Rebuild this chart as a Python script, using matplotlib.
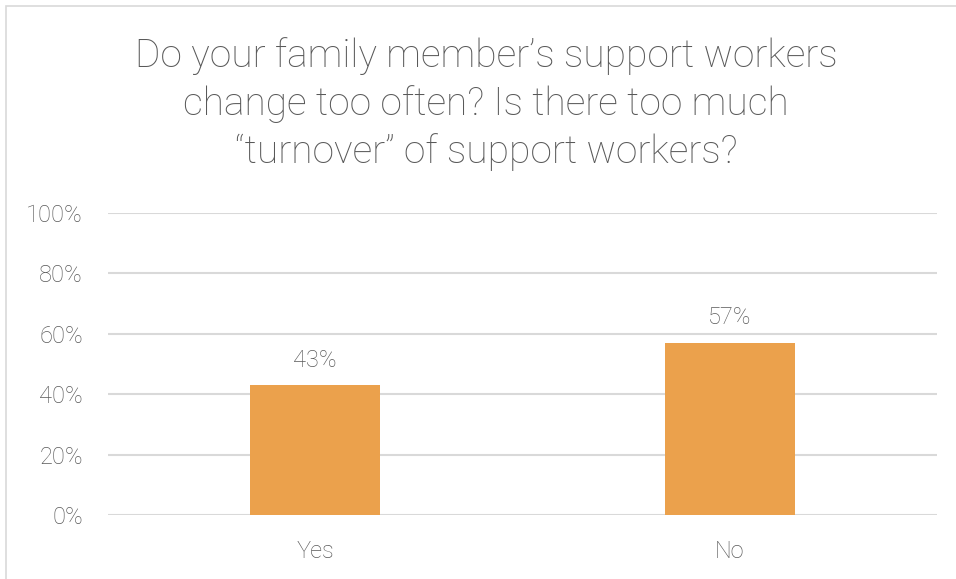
import matplotlib.pyplot as plt
from matplotlib.patches import Rectangle
from matplotlib.ticker import FuncFormatter

categories = ["Yes", "No"]
shares = [43, 57]
y_ticks = [0, 20, 40, 60, 80, 100]
title = ("Do your family member\u2019s support workers\n"
         "change too often? Is there too much\n"
         "\u201cturnover\u201d of support workers?")

plt.rcParams["font.family"] = ["Roboto", "DejaVu Sans"]

fig = plt.figure(figsize=(9.56, 5.79), dpi=100)
W, H = 956, 579

# outer chart frame
fig.patches.append(Rectangle((6 / W, -0.1), 1.1, (579 - 6) / H + 0.1,
                             transform=fig.transFigure, fill=False,
                             edgecolor="#d9d9d9", linewidth=1.2))

ax = fig.add_axes([108 / W, (H - 515) / H, (937 - 108) / W, (515 - 213) / H])
x = range(len(categories))
bars = ax.bar(x, shares, width=0.314, color="#eba14c", zorder=2)

for b, v in zip(bars, shares):
    ax.text(b.get_x() + b.get_width() / 2, v + 4.5, f"{v}%", ha="center",
            va="bottom", fontsize=17, color="#595959", fontweight="light")

ax.set_xlim(-0.5, 1.5)
ax.set_ylim(0, 100)
ax.set_yticks(y_ticks)
ax.yaxis.set_major_formatter(FuncFormatter(lambda v, _: f"{v:.0f}%"))
ax.set_xticks(list(x))
ax.set_xticklabels(categories, fontweight="light")
for lbl in ax.get_yticklabels():
    lbl.set_fontweight("light")
ax.grid(axis="y", color="#d9d9d9", linewidth=1.5, zorder=0)
for s in ax.spines.values():
    s.set_visible(False)
ax.tick_params(length=0, labelsize=17, labelcolor="#595959")
ax.tick_params(axis="y", pad=18)
ax.tick_params(axis="x", pad=18)

fig.text(486 / W, 1 - 104 / H, title, ha="center", va="center",
         fontsize=28, color="#595959", fontweight="light", linespacing=1.34)

fig.savefig("out.png", dpi=100)
